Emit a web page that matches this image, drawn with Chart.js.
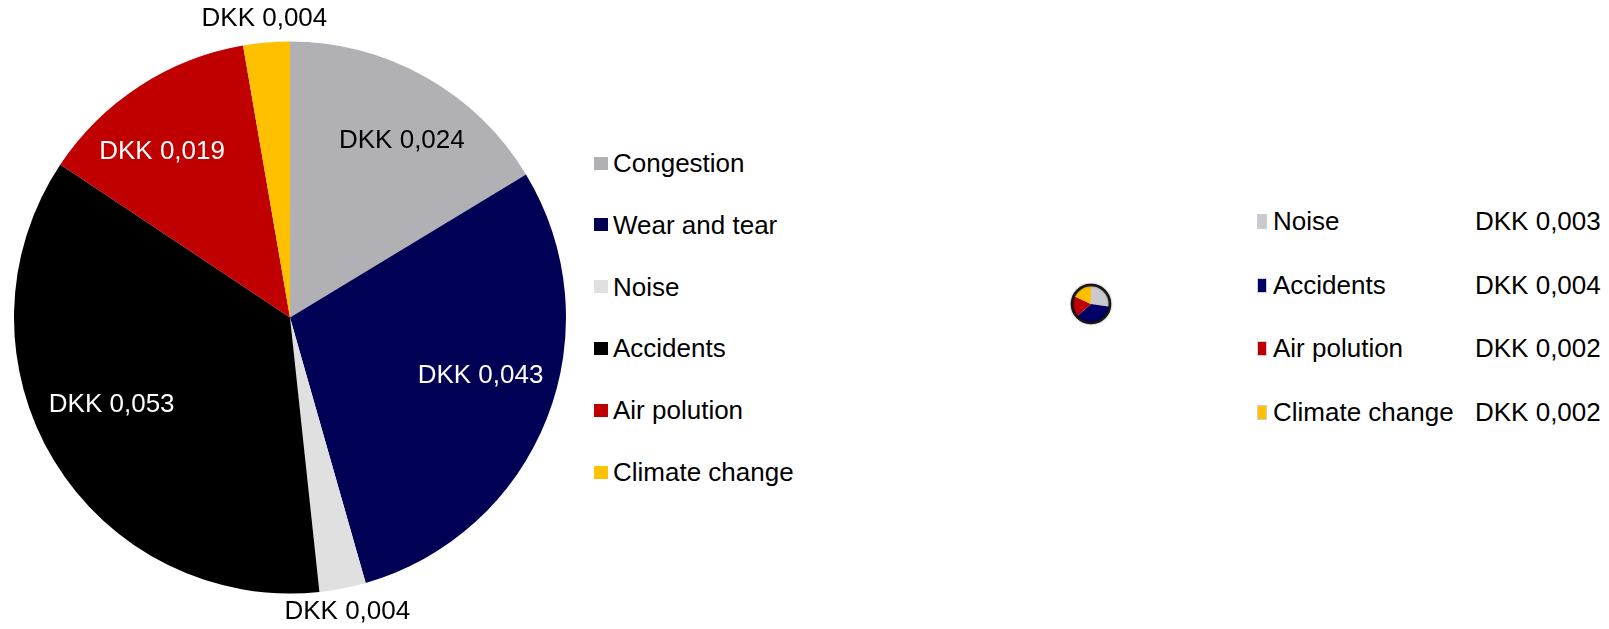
<!DOCTYPE html>
<html>
<head>
<meta charset="utf-8">
<script src="https://cdn.jsdelivr.net/npm/chart.js@4"></script>
<style>
  body { margin: 0; background: #fff; font-family: "Liberation Sans", Arial, sans-serif; }
  #wrap { position: relative; width: 1609px; height: 629px; overflow: hidden; }
  #mainPie { position: absolute; left: 0; top: 0; }
  #smallPie { position: absolute; left: 1060px; top: 273px; }
  .txt { position: absolute; font-size: 26px; line-height: 30px; color: #000; white-space: nowrap; }
  .box { position: absolute; box-sizing: border-box; }
</style>
</head>
<body>
<div id="wrap">
  <canvas id="mainPie" width="580" height="629"></canvas>
  <canvas id="smallPie" width="62" height="62"></canvas>
</div>
<script>
// cost per unit, main breakdown
const categories = ["Congestion", "Wear and tear", "Noise", "Accidents", "Air polution", "Climate change"];
const costs = [0.024, 0.043, 0.004, 0.053, 0.019, 0.004];
const colors = ["#B1B0B5", "#000055", "#E0E0E0", "#000000", "#C00000", "#FFC000"];
const labelColors = ["#000", "#fff", "#000", "#fff", "#fff", "#000"];

// secondary breakdown
const subCategories = ["Noise", "Accidents", "Air polution", "Climate change"];
const subCosts = [0.003, 0.004, 0.002, 0.002];
const subColors = ["#C9C9CF", "#000066", "#C00000", "#FFC000"];

const fmt = v => "DKK " + v.toFixed(3).replace(".", ",");
const FONT = "26px 'Liberation Sans', Arial, sans-serif";

// nudges for the inside labels so they sit like the original layout
const labelNudge = [[13, -1], [3, -15], [0, 0], [-6, -17], [-18, 3], [0, 0]];

const sliceLabels = {
  id: "sliceLabels",
  afterDatasetsDraw(chart) {
    const ctx = chart.ctx;
    const meta = chart.getDatasetMeta(0);
    const total = costs.reduce((a, b) => a + b, 0);
    ctx.save();
    ctx.font = FONT;
    ctx.textAlign = "center";
    ctx.textBaseline = "middle";
    meta.data.forEach((arc, i) => {
      const mid = (arc.startAngle + arc.endAngle) / 2;
      const outside = costs[i] / total < 0.05;
      const r = outside ? arc.outerRadius + 24 : arc.outerRadius * 0.73;
      const x = arc.x + r * Math.cos(mid) + labelNudge[i][0];
      const y = arc.y + r * Math.sin(mid) + labelNudge[i][1];
      ctx.fillStyle = labelColors[i];
      ctx.fillText(fmt(costs[i]), x, y);
    });
    ctx.restore();
  }
};

new Chart(document.getElementById("mainPie"), {
  type: "pie",
  data: {
    labels: categories,
    datasets: [{ data: costs, backgroundColor: colors, borderWidth: 0 }]
  },
  options: {
    responsive: false,
    animation: false,
    radius: 276,
    layout: { padding: { top: 6 } },
    plugins: { legend: { display: false }, tooltip: { enabled: false } }
  },
  plugins: [sliceLabels]
});

// dark rim round the small pie
const rim = {
  id: "rim",
  afterDatasetsDraw(chart) {
    const arc = chart.getDatasetMeta(0).data[0];
    const ctx = chart.ctx;
    ctx.save();
    ctx.shadowColor = "rgba(0,0,0,0.6)";
    ctx.shadowBlur = 2;
    ctx.strokeStyle = "#151515";
    ctx.lineWidth = 2.5;
    ctx.beginPath();
    ctx.arc(arc.x, arc.y, arc.outerRadius, 0, Math.PI * 2);
    ctx.stroke();
    ctx.restore();
  }
};

new Chart(document.getElementById("smallPie"), {
  type: "pie",
  data: {
    labels: subCategories,
    datasets: [{ data: subCosts, backgroundColor: subColors, borderWidth: 0 }]
  },
  options: {
    responsive: false,
    animation: false,
    radius: 19,
    plugins: { legend: { display: false }, tooltip: { enabled: false } }
  },
  plugins: [rim]
});

// legends
const wrap = document.getElementById("wrap");
function addBox(x, y, w, h, color, border) {
  const d = document.createElement("div");
  d.className = "box";
  Object.assign(d.style, { left: x + "px", top: y + "px", width: w + "px", height: h + "px", background: color });
  if (border) d.style.border = "1px solid " + border;
  wrap.appendChild(d);
}
function addText(x, cy, text) {
  const d = document.createElement("div");
  d.className = "txt";
  d.textContent = text;
  d.style.left = x + "px";
  d.style.top = (cy - 15) + "px";
  wrap.appendChild(d);
}

categories.forEach((name, i) => {
  const cy = 163 + i * 61.8;
  addBox(594, cy - 6.5, 14, 13, colors[i]);
  addText(613, cy, name);
});

subCategories.forEach((name, i) => {
  const cy = 221 + i * 63.7;
  addBox(1257, cy - 7, 10, 15, subColors[i], "#cfcfcf");
  addText(1273, cy, name);
  addText(1475, cy, fmt(subCosts[i]));
});
</script>
</body>
</html>
